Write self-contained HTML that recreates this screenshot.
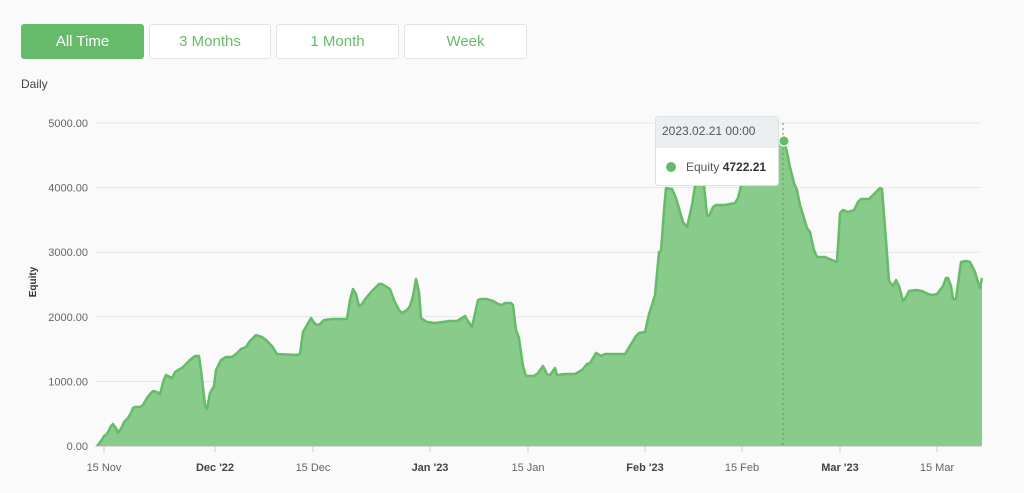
<!DOCTYPE html>
<html><head><style>
body{margin:0;width:1024px;height:493px;background:#fafafa;font-family:"Liberation Sans",sans-serif;overflow:hidden;position:relative}
.b{position:absolute;top:24px;height:33px;border:1px solid #e3e3e3;border-radius:3px;background:#fff;color:#66bb6a;font-size:15px;line-height:33px;text-align:center;box-sizing:content-box}
</style></head><body>
<div class="b" style="left:21px;width:121px;background:#66bb6a;border-color:#66bb6a;color:#fff">All Time</div>
<div class="b" style="left:149px;width:120px">3 Months</div>
<div class="b" style="left:276px;width:121px">1 Month</div>
<div class="b" style="left:404px;width:121px">Week</div>
<div style="position:absolute;left:21px;top:77px;font-size:12px;color:#444">Daily</div>
<svg width="1024" height="493" style="position:absolute;left:0;top:0" font-family="Liberation Sans, sans-serif">
<defs><path id="ln" d="M97,446 L101,441 L104,436 L107,434 L111,426 L113,424 L117,430 L118,433 L122,427 L124,422 L128,418 L131,413 L133,408 L135,407 L140,407 L143,405 L147,398 L150,394 L153,391 L157,392 L160,394 L164,379 L166,375 L170,377 L172,378 L175,372 L178,370 L182,368 L186,364 L190,360 L195,356 L199,356 L201,370 L205,405 L207,409 L210,393 L214,386 L216,370 L221,360 L226,357 L232,357 L236,354 L241,349 L246,347 L250,341 L256,335 L262,337 L266,340 L272,346 L277,354 L297,355 L300,354 L303,332 L307,325 L311,318 L315,324 L319,325 L324,320 L333,319 L347,319 L350,300 L353,289 L356,294 L359,306 L362,304 L366,298 L373,290 L379,284 L382,284 L390,289 L394,300 L399,310 L402,313 L407,310 L410,306 L413,296 L416,279 L419,292 L421,318 L427,322 L435,323 L450,321 L457,321 L462,318 L465,316 L468,321 L472,327 L474,318 L478,300 L481,299 L487,299 L493,301 L498,304 L502,305 L505,303 L511,303 L513,305 L516,330 L519,338 L523,366 L526,376 L534,376 L538,373 L543,366 L547,374 L550,375 L555,368 L557,375 L565,374 L575,374 L582,370 L587,364 L590,363 L596,353 L601,356 L605,354 L625,354 L628,349 L636,336 L639,333 L645,332 L649,314 L652,305 L655,295 L659,252 L661,251 L664,210 L666,188 L672,189 L676,198 L683,222 L687,227 L692,205 L695,186 L700,181 L704,185 L707,215 L709,216 L713,207 L716,205 L725,205 L735,203 L738,198 L741,186 L745,180 L750,160 L760,147 L775,145 L784,141 L787,152 L790,167 L794,183 L797,190 L800,205 L804,218 L807,228 L810,232 L814,250 L817,257 L825,257 L832,260 L837,262 L840,213 L843,210 L848,212 L854,210 L858,202 L861,199 L869,199 L872,196 L876,192 L880,188 L882,189 L886,240 L889,281 L893,286 L896,280 L899,286 L903,301 L906,297 L909,291 L916,290 L922,291 L928,294 L932,295 L937,294 L943,286 L946,278 L948,278 L951,286 L953,299 L956,299 L959,276 L961,262 L966,261 L970,262 L975,272 L978,282 L980,288 L982,278"/></defs>
<g stroke="#e6e6e6" stroke-width="1">
<line x1="95" x2="981" y1="123" y2="123"/><line x1="95" x2="981" y1="187.6" y2="187.6"/><line x1="95" x2="981" y1="252.2" y2="252.2"/><line x1="95" x2="981" y1="316.8" y2="316.8"/><line x1="95" x2="981" y1="381.4" y2="381.4"/><line x1="95" x2="981" y1="446" y2="446"/>
</g>
<g font-size="11" fill="#666" text-anchor="end">
<text x="88" y="127">5000.00</text><text x="88" y="191.6">4000.00</text><text x="88" y="256.2">3000.00</text><text x="88" y="320.8">2000.00</text><text x="88" y="385.4">1000.00</text><text x="88" y="450">0.00</text>
</g>
<text transform="translate(36,282) rotate(-90)" font-size="10" fill="#333" text-anchor="middle" font-weight="bold">Equity</text>
<path fill="#88cb8a" d="M97,446 L101,441 L104,436 L107,434 L111,426 L113,424 L117,430 L118,433 L122,427 L124,422 L128,418 L131,413 L133,408 L135,407 L140,407 L143,405 L147,398 L150,394 L153,391 L157,392 L160,394 L164,379 L166,375 L170,377 L172,378 L175,372 L178,370 L182,368 L186,364 L190,360 L195,356 L199,356 L201,370 L205,405 L207,409 L210,393 L214,386 L216,370 L221,360 L226,357 L232,357 L236,354 L241,349 L246,347 L250,341 L256,335 L262,337 L266,340 L272,346 L277,354 L297,355 L300,354 L303,332 L307,325 L311,318 L315,324 L319,325 L324,320 L333,319 L347,319 L350,300 L353,289 L356,294 L359,306 L362,304 L366,298 L373,290 L379,284 L382,284 L390,289 L394,300 L399,310 L402,313 L407,310 L410,306 L413,296 L416,279 L419,292 L421,318 L427,322 L435,323 L450,321 L457,321 L462,318 L465,316 L468,321 L472,327 L474,318 L478,300 L481,299 L487,299 L493,301 L498,304 L502,305 L505,303 L511,303 L513,305 L516,330 L519,338 L523,366 L526,376 L534,376 L538,373 L543,366 L547,374 L550,375 L555,368 L557,375 L565,374 L575,374 L582,370 L587,364 L590,363 L596,353 L601,356 L605,354 L625,354 L628,349 L636,336 L639,333 L645,332 L649,314 L652,305 L655,295 L659,252 L661,251 L664,210 L666,188 L672,189 L676,198 L683,222 L687,227 L692,205 L695,186 L700,181 L704,185 L707,215 L709,216 L713,207 L716,205 L725,205 L735,203 L738,198 L741,186 L745,180 L750,160 L760,147 L775,145 L784,141 L787,152 L790,167 L794,183 L797,190 L800,205 L804,218 L807,228 L810,232 L814,250 L817,257 L825,257 L832,260 L837,262 L840,213 L843,210 L848,212 L854,210 L858,202 L861,199 L869,199 L872,196 L876,192 L880,188 L882,189 L886,240 L889,281 L893,286 L896,280 L899,286 L903,301 L906,297 L909,291 L916,290 L922,291 L928,294 L932,295 L937,294 L943,286 L946,278 L948,278 L951,286 L953,299 L956,299 L959,276 L961,262 L966,261 L970,262 L975,272 L978,282 L980,288 L982,278 L982,446 L97,446 Z"/>
<use href="#ln" fill="none" stroke="#66bb6a" stroke-width="2.5" stroke-linejoin="round"/>
<line x1="783" y1="123" x2="783" y2="446" stroke="#5a9a5c" stroke-dasharray="2,3" stroke-width="1"/>
<circle cx="784" cy="141" r="5" fill="#66bb6a" stroke="#fff" stroke-width="1"/>
<line x1="95" x2="981" y1="446.5" y2="446.5" stroke="#ddd"/>
<g stroke="#ccc"><line x1="104" x2="104" y1="446" y2="452"/><line x1="215" x2="215" y1="446" y2="452"/><line x1="313" x2="313" y1="446" y2="452"/><line x1="430" x2="430" y1="446" y2="452"/><line x1="528" x2="528" y1="446" y2="452"/><line x1="645" x2="645" y1="446" y2="452"/><line x1="742" x2="742" y1="446" y2="452"/><line x1="840" x2="840" y1="446" y2="452"/><line x1="937" x2="937" y1="446" y2="452"/></g>
<g font-size="11" fill="#666" text-anchor="middle">
<text x="104" y="471">15 Nov</text><text x="215" y="471" font-weight="bold" fill="#444">Dec '22</text><text x="313" y="471">15 Dec</text><text x="430" y="471" font-weight="bold" fill="#444">Jan '23</text><text x="528" y="471">15 Jan</text><text x="645" y="471" font-weight="bold" fill="#444">Feb '23</text><text x="742" y="471">15 Feb</text><text x="840" y="471" font-weight="bold" fill="#444">Mar '23</text><text x="937" y="471">15 Mar</text>
</g>
<g>
<rect x="655.5" y="116.5" width="123" height="69" rx="3" fill="#fff" stroke="#e0e0e0"/>
<path d="M656,117 h122 v31 h-122 z" fill="#eceff1"/>
<text x="662" y="135" font-size="12" fill="#555">2023.02.21 00:00</text>
<circle cx="671" cy="167" r="5" fill="#66bb6a"/>
<text x="686" y="171" font-size="12" fill="#555">Equity <tspan font-weight="bold" fill="#333">4722.21</tspan></text>
</g>
</svg>
</body></html>
